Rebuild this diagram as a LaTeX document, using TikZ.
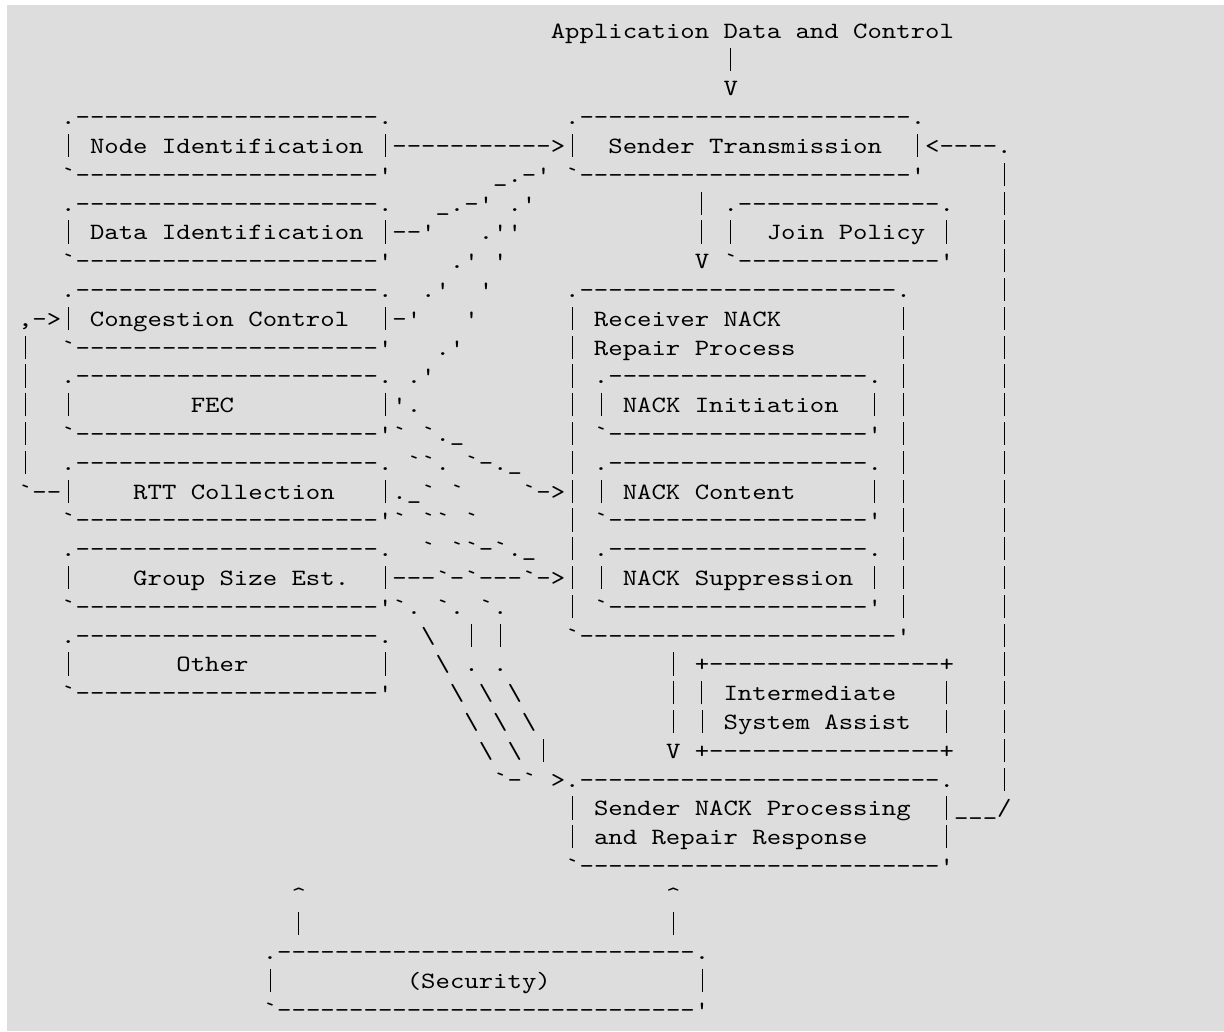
\documentclass[tikz,border=0pt]{standalone}
\usepackage{fontspec}
\setmonofont{lmmono10-regular.otf}[FakeStretch=1.1755]
\usepackage{tikz}

\definecolor{pagegray}{RGB}{221,221,221}
\newcommand\asciifont{\ttfamily\fontsize{17.5}{21.6}\selectfont\fontdimen2\font=10.8pt\relax\frenchspacing}
\newcommand\dashes[1]{\foreach\k in {1,...,#1}{-}}
\newcommand\blanks[1]{\foreach\k in {1,...,#1}{~}}
\newcommand\pipechar{\makebox[10.8pt][c]{\rule[-2.8pt]{0.75pt}{17.5pt}}}

\tikzset{
    ascii/.style={font=\asciifont, inner sep=0pt, outer sep=0pt, anchor=base west}
}

\begin{document}
\begin{tikzpicture}[x=10.8pt, y=21.6pt]
    \useasboundingbox (-1.25,1.33) rectangle (83.75,-34.47);
    \fill[pagegray] (-0.76,1.16) rectangle (83.75,-34.47);

    \begin{scope}
        \node[ascii] (line0) at (37,0) {Application~Data~and~Control};
        \node[ascii] (line1) at (49,-1) {\pipechar};
        \node[ascii] (line2) at (49,-2) {V};
        \node[ascii] (line3) at (3,-3) {.\dashes{21}.\blanks{12}.\dashes{23}.};
        \node[ascii] (line4) at (3,-4) {\pipechar~Node~Identification~\pipechar\dashes{11}>\pipechar~~Sender~Transmission~~\pipechar<\dashes{4}.};
        \node[ascii] (line5) at (3,-5) {`\dashes{21}'\blanks{7}\_.-'~`\dashes{23}'\blanks{5}\pipechar};
        \node[ascii] (line6) at (3,-6) {.\dashes{21}.\blanks{3}\_.-'~.'\blanks{11}\pipechar~.\dashes{14}.\blanks{3}\pipechar};
        \node[ascii] (line7) at (3,-7) {\pipechar~Data~Identification~\pipechar--'\blanks{3}.''\blanks{12}\pipechar~\pipechar~~Join~Policy~\pipechar\blanks{3}\pipechar};
        \node[ascii] (line8) at (3,-8) {`\dashes{21}'\blanks{4}.'~'\blanks{13}V~`\dashes{14}'\blanks{3}\pipechar};
        \node[ascii] (line9) at (3,-9) {.\dashes{21}.\blanks{2}.'\blanks{2}'\blanks{5}.\dashes{22}.\blanks{6}\pipechar};
        \node[ascii] (line10) at (0,-10) {,->\pipechar~Congestion~Control~~\pipechar-'\blanks{3}'\blanks{6}\pipechar~Receiver~NACK\blanks{8}\pipechar\blanks{6}\pipechar};
        \node[ascii] (line11) at (0,-11) {\pipechar~~`\dashes{21}'\blanks{3}.'\blanks{7}\pipechar~Repair~Process\blanks{7}\pipechar\blanks{6}\pipechar};
        \node[ascii] (line12) at (0,-12) {\pipechar~~.\dashes{21}.~.'\blanks{9}\pipechar~.\dashes{18}.~\pipechar\blanks{6}\pipechar};
        \node[ascii] (line13) at (0,-13) {\pipechar~~\pipechar\blanks{8}FEC\blanks{10}\pipechar'.\blanks{10}\pipechar~\pipechar~NACK~Initiation~~\pipechar~\pipechar\blanks{6}\pipechar};
        \node[ascii] (line14) at (0,-14) {\pipechar~~`\dashes{21}'`~`.\_\blanks{7}\pipechar~`\dashes{18}'~\pipechar\blanks{6}\pipechar};
        \node[ascii] (line15) at (0,-15) {\pipechar~~.\dashes{21}.~``.~`-.\_\blanks{3}\pipechar~.\dashes{18}.~\pipechar\blanks{6}\pipechar};
        \node[ascii] (line16) at (0,-16) {`--\pipechar\blanks{4}RTT~Collection\blanks{3}\pipechar.\_`~`\blanks{4}`->\pipechar~\pipechar~NACK~Content\blanks{5}\pipechar~\pipechar\blanks{6}\pipechar};
        \node[ascii] (line17) at (3,-17) {`\dashes{21}'`~``~`\blanks{6}\pipechar~`\dashes{18}'~\pipechar\blanks{6}\pipechar};
        \node[ascii] (line18) at (3,-18) {.\dashes{21}.\blanks{2}`~``-`.\_\blanks{2}\pipechar~.\dashes{18}.~\pipechar\blanks{6}\pipechar};
        \node[ascii] (line19) at (3,-19) {\pipechar\blanks{4}Group~Size~Est.~~\pipechar---`-`---`->\pipechar~\pipechar~NACK~Suppression~\pipechar~\pipechar\blanks{6}\pipechar};
        \node[ascii] (line20) at (3,-20) {`\dashes{21}'`.~`.~`.\blanks{4}\pipechar~`\dashes{18}'~\pipechar\blanks{6}\pipechar};
        \node[ascii] (line21) at (3,-21) {.\dashes{21}.\blanks{2}\textbackslash\blanks{2}\pipechar~\pipechar\blanks{4}`\dashes{22}'\blanks{6}\pipechar};
        \node[ascii] (line22) at (3,-22) {\pipechar\blanks{7}Other\blanks{9}\pipechar\blanks{3}\textbackslash~.~.\blanks{11}\pipechar~+\dashes{16}+\blanks{3}\pipechar};
        \node[ascii] (line23) at (3,-23) {`\dashes{21}'\blanks{4}\textbackslash~\textbackslash~\textbackslash\blanks{10}\pipechar~\pipechar~Intermediate\blanks{3}\pipechar\blanks{3}\pipechar};
        \node[ascii] (line24) at (31,-24) {\textbackslash~\textbackslash~\textbackslash\blanks{9}\pipechar~\pipechar~System~Assist~~\pipechar\blanks{3}\pipechar};
        \node[ascii] (line25) at (32,-25) {\textbackslash~\textbackslash~\pipechar\blanks{8}V~+\dashes{16}+\blanks{3}\pipechar};
        \node[ascii] (line26) at (33,-26) {`-`~>.\dashes{25}.\blanks{3}\pipechar};
        \node[ascii] (line27) at (38,-27) {\pipechar~Sender~NACK~Processing~~\pipechar\_\_\_/};
        \node[ascii] (line28) at (38,-28) {\pipechar~and~Repair~Response\blanks{5}\pipechar};
        \node[ascii] (line29) at (38,-29) {`\dashes{25}'};
        \node[ascii] (line30) at (19,-30) {\textasciicircum\blanks{25}\textasciicircum};
        \node[ascii] (line31) at (19,-31) {\pipechar\blanks{25}\pipechar};
        \node[ascii] (line32) at (17,-32) {.\dashes{29}.};
        \node[ascii] (line33) at (17,-33) {\pipechar\blanks{9}(Security)\blanks{10}\pipechar};
        \node[ascii] (line34) at (17,-34) {`\dashes{29}'};
    \end{scope}

\end{tikzpicture}
\end{document}
